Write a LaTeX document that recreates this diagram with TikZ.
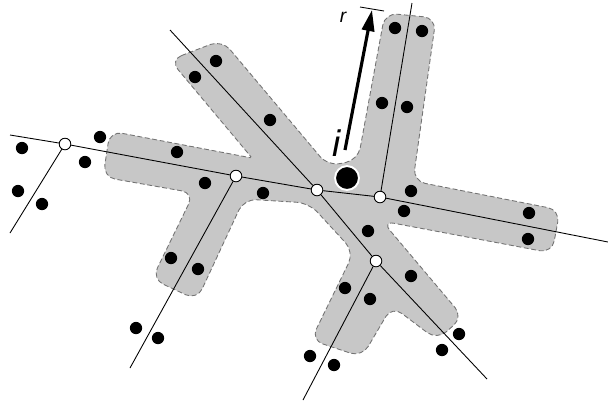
\documentclass[tikz,border=0pt]{standalone}
\usepackage{fontspec}
\setmainfont{Liberation Sans}
\usetikzlibrary{arrows.meta}

\begin{document}
\begin{tikzpicture}[
  x=0.02cm, y=-0.02cm,
  tube/.style={
    fill=black!22,
    draw=black!55,
    line width=0.5pt,
    dash pattern=on 2.8pt off 1.5pt,
    rounded corners=7pt
  },
  axis/.style={line width=0.5pt},
  dot/.style={circle, fill=black, inner sep=0pt, minimum size=7pt},
  junction/.style={circle, draw=black, fill=white, line width=0.5pt, inner sep=0pt, minimum size=6.6pt},
  centre/.style={circle, fill=black, draw=white, line width=1.1pt, inner sep=0pt, minimum size=13.6pt},
  arrow/.style={-{Triangle[length=12pt, width=7pt]}, line width=1.8pt}
]
\useasboundingbox (0,0) rectangle (608,400);

\path[tube] (170,60) -- (222,40) -- (328,166) -- (358,160) -- (385,13) -- (436,18)
  -- (413,181) -- (560,210) -- (552,253) -- (382,221) -- (463,317) -- (437,340)
  -- (392,306) -- (362,357) -- (311,340) -- (354,252) -- (309,203) -- (244,199)
  -- (197,300) -- (152,279) -- (194,193) -- (103,177) -- (110,131)
  [rounded corners=1pt] -- (252,158) [rounded corners=7pt] -- cycle;

\node[junction] (w1) at (65,144) {};
\node[junction] (w2) at (236,176) {};
\node[junction] (w3) at (317,190) {};
\node[junction] (w4) at (380,197) {};
\node[junction] (w5) at (376,261) {};

\coordinate (westend) at (10,135);
\coordinate (eastend) at (608,242);
\coordinate (nwend) at (170,30);
\coordinate (seend) at (487,379);
\coordinate (leftfoot) at (10,233);
\coordinate (midfoot) at (130,368);
\coordinate (lowfoot) at (303,400);
\coordinate (topend) at (412,3);

\draw[axis] (westend) -- (w1) -- (w2) -- (w3) -- (w4) -- (eastend);
\draw[axis] (nwend) -- (w3) -- (w5) -- (seend);
\draw[axis] (w1) -- (leftfoot);
\draw[axis] (w2) -- (midfoot);
\draw[axis] (w5) -- (lowfoot);
\draw[axis] (w4) -- (topend);

\foreach \p [count=\k] in {(395,28),(422,31),(382,103),(407,107),(411,191),(404,211),
  (529,213),(528,239),(216,61),(195,77),(270,120),(177,152),(205,183),(263,193),
  (100,137),(22,148),(85,162),(18,191),(42,204),(171,258),(198,269),(136,328),
  (158,338),(368,231),(411,276),(345,288),(370,299),(459,334),(442,350),(310,356),
  (334,365)}
  \node[dot] (d\k) at \p {};

\node[centre] (i) at (347,178) {};
\node[font=\fontsize{21}{22}\selectfont\itshape] (ilabel) at (337,143) {i};
\node[font=\fontsize{11}{12}\selectfont\itshape] (rlabel) at (343,17) {r};

\coordinate (rtail) at (345,150);
\coordinate (rtip) at (372,10);
\coordinate (tickl) at (360,7);
\coordinate (tickr) at (384,11);
\draw[arrow] (rtail) -- (rtip);
\draw[axis] (tickl) -- (tickr);
\end{tikzpicture}
\end{document}
